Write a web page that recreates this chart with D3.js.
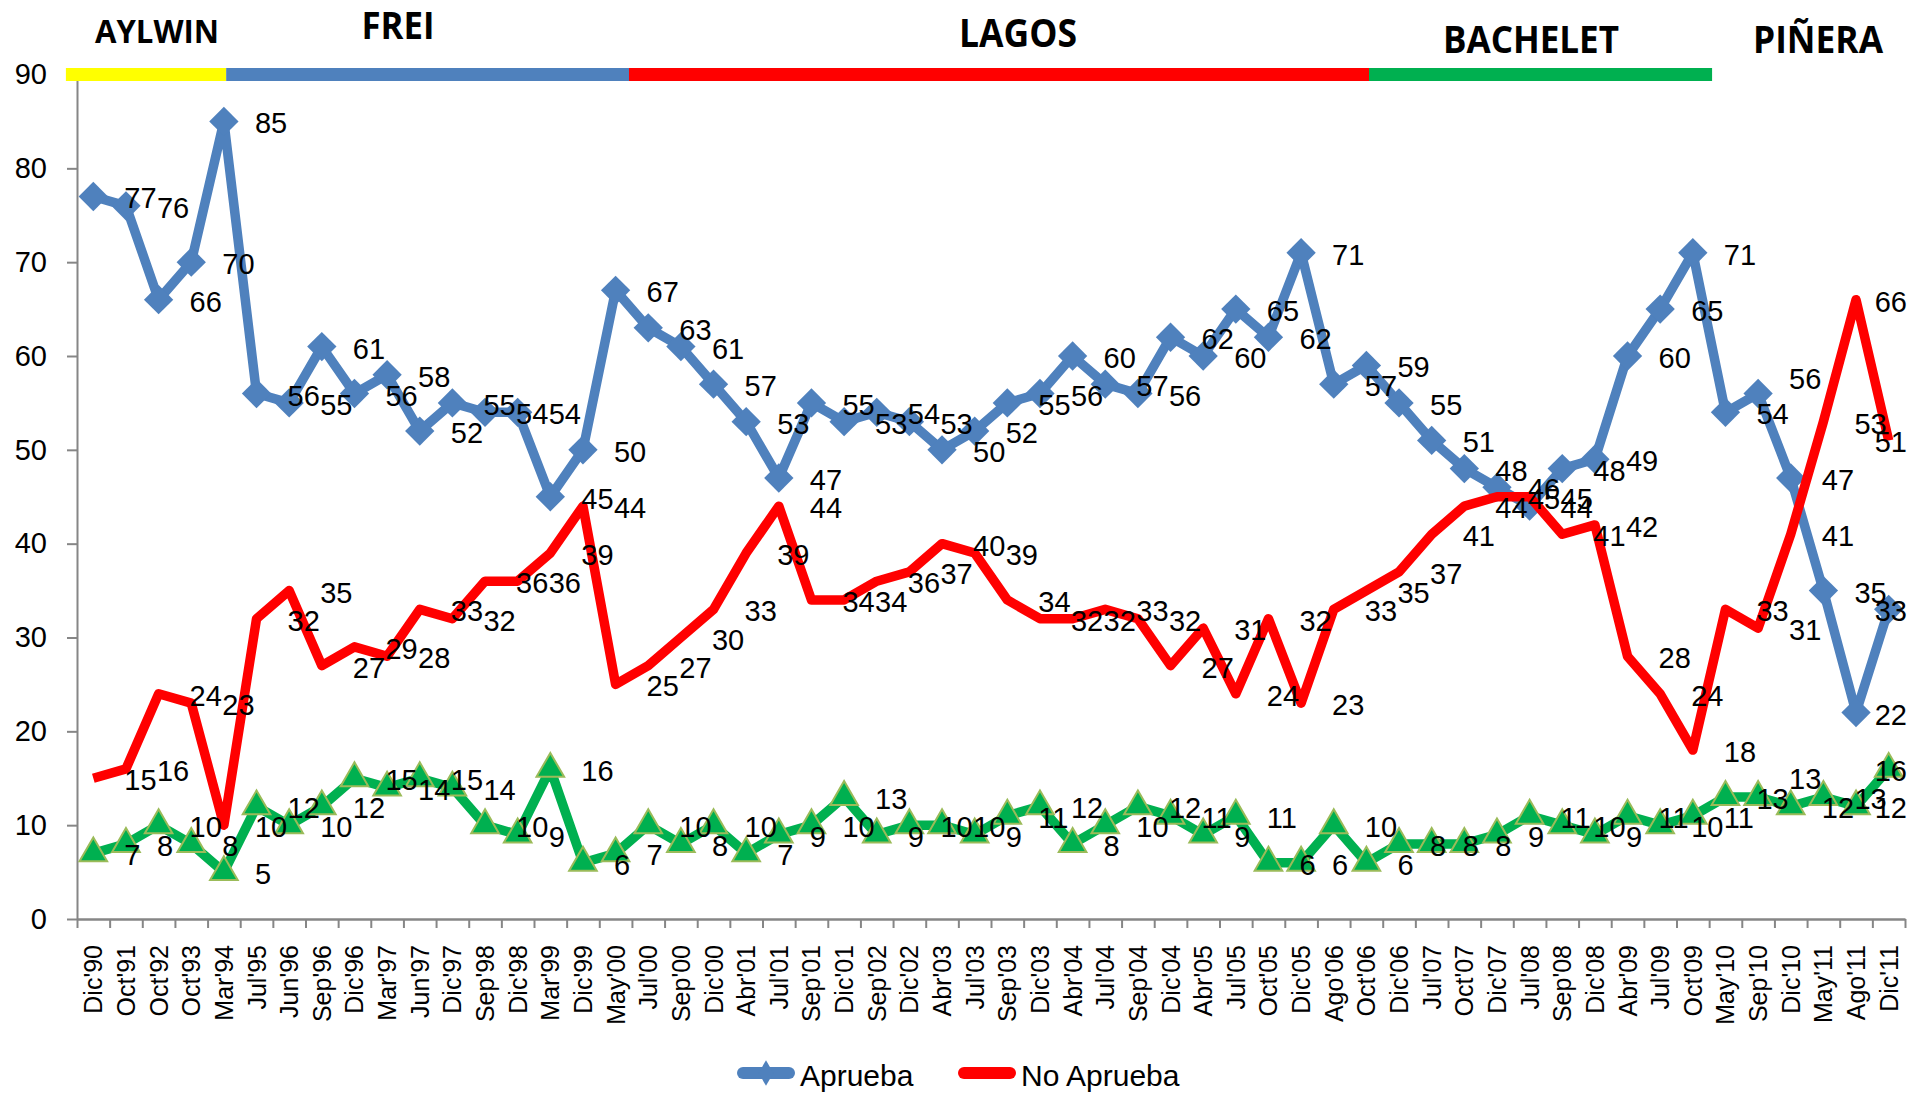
<!DOCTYPE html>
<html>
<head>
<meta charset="utf-8">
<script src="https://cdn.jsdelivr.net/npm/d3@7/dist/d3.min.js"></script>
<style>
  body { margin: 0; background: #fff; }
  svg { display: block; font-family: "Liberation Sans", Arial, sans-serif; }
</style>
</head>
<body>
<svg id="chart" width="1913" height="1093"></svg>
<script>
const categories = [
  "Dic'90", "Oct'91", "Oct'92", "Oct'93", "Mar'94", "Jul'95", "Jun'96", "Sep'96",
  "Dic'96", "Mar'97", "Jun'97", "Dic'97", "Sep'98", "Dic'98", "Mar'99", "Dic'99",
  "May'00", "Jul'00", "Sep'00", "Dic'00", "Abr'01", "Jul'01", "Sep'01", "Dic'01",
  "Sep'02", "Dic'02", "Abr'03", "Jul'03", "Sep'03", "Dic'03", "Abr'04", "Jul'04",
  "Sep'04", "Dic'04", "Abr'05", "Jul'05", "Oct'05", "Dic'05", "Ago'06", "Oct'06",
  "Dic'06", "Jul'07", "Oct'07", "Dic'07", "Jul'08", "Sep'08", "Dic'08", "Abr'09",
  "Jul'09", "Oct'09", "May'10", "Sep'10", "Dic'10", "May'11", "Ago'11", "Dic'11"
];

const aprueba = [
  77, 76, 66, 70, 85, 56, 55, 61, 56, 58, 52, 55, 54, 54, 45, 50,
  67, 63, 61, 57, 53, 47, 55, 53, 54, 53, 50, 52, 55, 56, 60, 57,
  56, 62, 60, 65, 62, 71, 57, 59, 55, 51, 48, 46, 44, 48, 49, 60,
  65, 71, 54, 56, 47, 35, 22, 33
];

const noAprueba = [
  15, 16, 24, 23, 10, 32, 35, 27, 29, 28, 33, 32, 36, 36, 39, 44,
  25, 27, 30, 33, 39, 44, 34, 34, 36, 37, 40, 39, 34, 32, 32, 33,
  32, 27, 31, 24, 32, 23, 33, 35, 37, 41, 44, 45, 45, 41, 42, 28,
  24, 18, 33, 31, 41, 53, 66, 51
];

const noSabe = [
  7, 8, 10, 8, 5, 12, 10, 12, 15, 14, 15, 14, 10, 9, 16, 6,
  7, 10, 8, 10, 7, 9, 10, 13, 9, 10, 10, 9, 11, 12, 8, 10,
  12, 11, 9, 11, 6, 6, 10, 6, 8, 8, 8, 9, 11, 10, 9, 11,
  10, 11, 13, 13, 12, 13, 12, 16
];

const yTicks = [0, 10, 20, 30, 40, 50, 60, 70, 80, 90];

// presidential terms, in category-index units
const presidents = ["AYLWIN", "FREI", "LAGOS", "BACHELET", "PIÑERA"];
const termColors = ["#FFFF00", "#4F81BD", "#FF0000", "#00B050", null];
const termStart = [-0.84, 4.07, 16.41, 39.08, null];
const termEnd = [4.07, 16.41, 39.08, 49.59, null];

// title placement (layout only)
const titleLayout = [
  { x: 157, y: 43, size: 32, w: 124 },
  { x: 398, y: 39, size: 38, w: 73 },
  { x: 1018, y: 47, size: 40, w: 118 },
  { x: 1531, y: 53, size: 37, w: 176 },
  { x: 1818, y: 53, size: 37, w: 130 }
];

const margin = { left: 77, right: 1905, top: 74.5, bottom: 919 };
const axisGray = "#868686";
const labelSize = 29;

const svg = d3.select("#chart");

const x = d3.scaleBand().domain(categories).range([margin.left, margin.right]);
const xi = d3.scaleLinear()
  .domain([-0.5, categories.length - 0.5])
  .range([margin.left, margin.right]);
const y = d3.scaleLinear().domain([0, 90]).range([margin.bottom, margin.top]);
const px = (d, i) => x(categories[i]) + x.bandwidth() / 2;

// y axis
const yAxis = svg.append("g")
  .attr("transform", `translate(${margin.left},0)`)
  .call(d3.axisLeft(y).tickValues(yTicks).tickSize(10).tickSizeOuter(0).tickPadding(20));
yAxis.select(".domain").attr("stroke", axisGray).attr("stroke-width", 2);
yAxis.selectAll(".tick line").attr("stroke", axisGray).attr("stroke-width", 2);
yAxis.selectAll("text")
  .style("font-size", labelSize + "px")
  .style("font-family", "'Liberation Sans', Arial, sans-serif")
  .attr("fill", "#000");

// x axis: labels at band centres
const xAxis = svg.append("g")
  .attr("transform", `translate(0,${margin.bottom})`)
  .call(d3.axisBottom(x).tickSize(0).tickSizeOuter(0));
xAxis.select(".domain").attr("stroke", axisGray).attr("stroke-width", 2.5);
xAxis.selectAll("text")
  .attr("transform", "rotate(-90)")
  .attr("x", -26)
  .attr("y", 0)
  .attr("dy", "0.36em")
  .style("text-anchor", "end")
  .style("font-size", "25px")
  .style("font-family", "'Liberation Sans', Arial, sans-serif")
  .attr("fill", "#000");

// x axis: tick marks between categories
const xTicks = svg.append("g")
  .attr("transform", `translate(0,${margin.bottom})`)
  .call(d3.axisBottom(xi)
    .tickValues(d3.range(-0.5, categories.length, 1))
    .tickFormat("")
    .tickSize(9)
    .tickSizeOuter(0));
xTicks.select(".domain").remove();
xTicks.selectAll(".tick line").attr("stroke", axisGray).attr("stroke-width", 2);

// presidential bars
presidents.forEach((p, i) => {
  if (termColors[i]) {
    svg.append("rect")
      .attr("x", xi(termStart[i]))
      .attr("y", 68)
      .attr("width", xi(termEnd[i]) - xi(termStart[i]))
      .attr("height", 13)
      .attr("fill", termColors[i]);
  }
  const t = titleLayout[i];
  svg.append("text")
    .attr("x", t.x)
    .attr("y", t.y)
    .attr("text-anchor", "middle")
    .attr("textLength", t.w)
    .attr("lengthAdjust", "spacingAndGlyphs")
    .style("font-family", "'Open Sans', sans-serif")
    .style("font-weight", "bold")
    .style("font-size", t.size + "px")
    .text(p);
});

const line = d3.line().x(px).y(d => y(d));

const series = [
  { values: aprueba, color: "#4F81BD", marker: "diamond", nudge: { 51: -17 } },
  { values: noAprueba, color: "#FF0000", marker: null, nudge: {} },
  { values: noSabe, color: "#00B050", marker: "triangle", nudge: { 51: -20 } }
];

series.forEach(s => {
  svg.append("path")
    .datum(s.values)
    .attr("fill", "none")
    .attr("stroke", s.color)
    .attr("stroke-width", 9.5)
    .attr("stroke-linejoin", "round")
    .attr("d", line);

  if (s.marker === "diamond") {
    svg.append("g").selectAll("path")
      .data(s.values)
      .join("path")
      .attr("d", d3.symbol(d3.symbolSquare, 430))
      .attr("transform", (d, i) => `translate(${px(d, i)},${y(d)}) rotate(45)`)
      .attr("fill", s.color);
  } else if (s.marker === "triangle") {
    svg.append("g").selectAll("path")
      .data(s.values)
      .join("path")
      .attr("d", d3.symbol(d3.symbolTriangle, 330))
      .attr("transform", (d, i) => `translate(${px(d, i)},${y(d)})`)
      .attr("fill", s.color)
      .attr("stroke", "#9BBB59")
      .attr("stroke-width", 2);
  }
});

// data labels, right of each point, kept inside the plot
const labelRight = 1907;
series.forEach(s => {
  svg.append("g").selectAll("text")
    .data(s.values)
    .join("text")
    .attr("x", (d, i) => px(d, i) + 31)
    .attr("y", (d, i) => y(d) + 2 + (s.nudge[i] || 0))
    .attr("dominant-baseline", "central")
    .style("font-size", labelSize + "px")
    .attr("fill", "#000")
    .text(d => d)
    .each(function () {
      const w = this.getComputedTextLength();
      const lx = +this.getAttribute("x");
      if (lx + w > labelRight) this.setAttribute("x", labelRight - w);
    });
});

// legend
const legend = svg.append("g").attr("transform", "translate(0,1073)");
const legendItems = [
  { name: "Aprueba", color: "#4F81BD", x: 737, marker: true },
  { name: "No Aprueba", color: "#FF0000", x: 958, marker: false }
];
legendItems.forEach(item => {
  legend.append("line")
    .attr("x1", item.x + 6).attr("x2", item.x + 52)
    .attr("y1", 0).attr("y2", 0)
    .attr("stroke", item.color)
    .attr("stroke-width", 12)
    .attr("stroke-linecap", "round");
  if (item.marker) {
    legend.append("path")
      .attr("d", d3.symbol(d3.symbolDiamond, 190))
      .attr("transform", `translate(${item.x + 29},0)`)
      .attr("fill", item.color);
  }
  legend.append("text")
    .attr("x", item.x + 63)
    .attr("y", 2)
    .attr("dominant-baseline", "central")
    .style("font-size", "30px")
    .attr("fill", "#000")
    .text(item.name);
});
</script>
</body>
</html>
